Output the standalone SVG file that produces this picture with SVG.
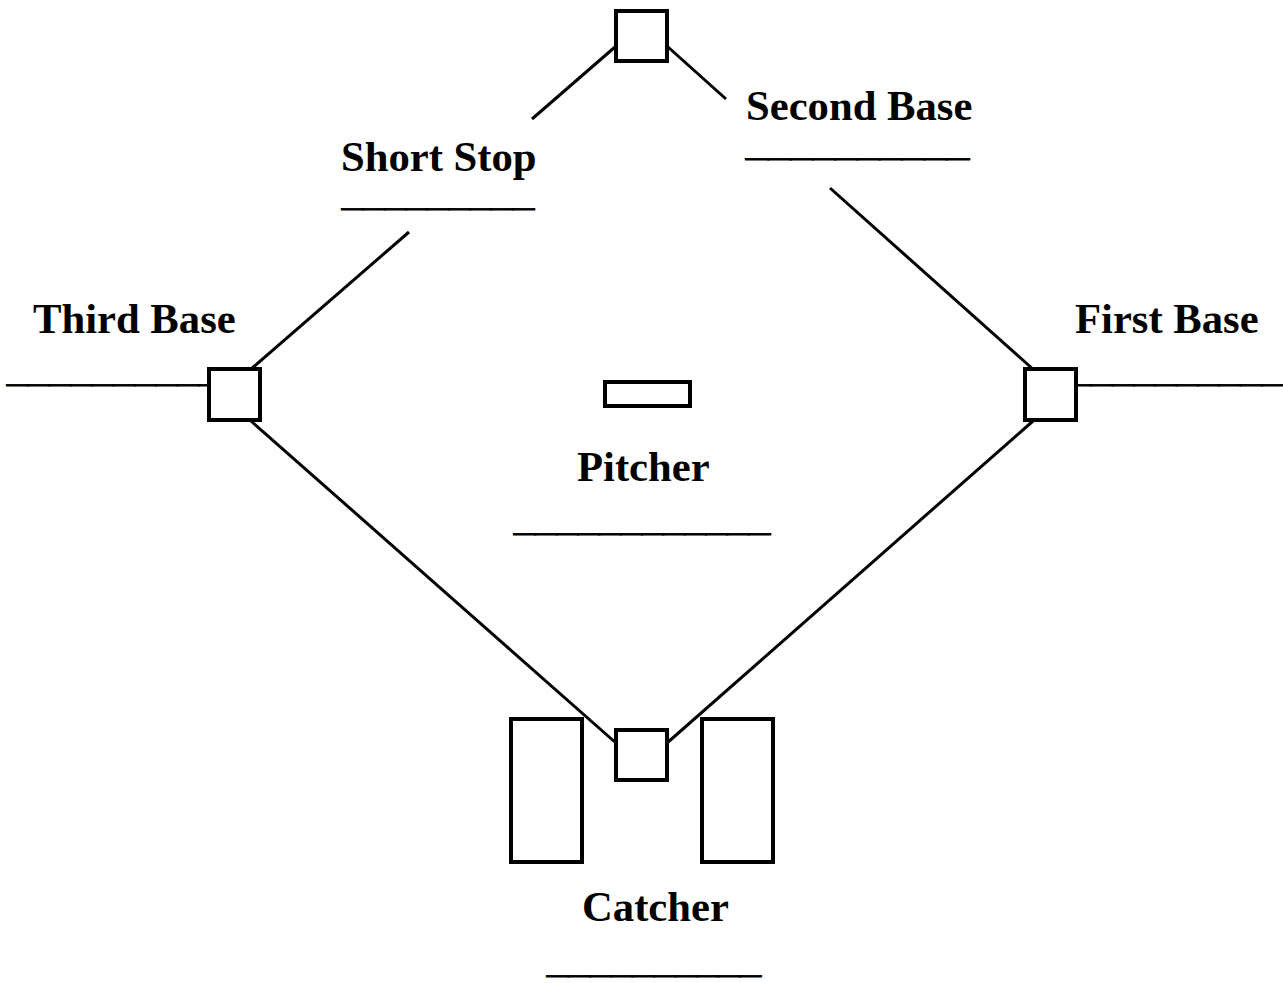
<svg xmlns="http://www.w3.org/2000/svg" width="1283" height="983" viewBox="0 0 1283 983">
<style>
.lbl{font-family:"Liberation Serif","Times New Roman",serif;font-weight:bold;font-size:42.67px;fill:#000}
.blank{font-family:"Liberation Serif","Times New Roman",serif;font-weight:bold;font-size:24px;fill:#000;stroke:#000;stroke-width:0.9}
.base{fill:#fff;stroke:#000;stroke-width:4}
.path{stroke:#000;stroke-width:3;fill:none}
</style>
<rect width="1283" height="983" fill="#fff"/>
<g id="connectors">
<line class="path" x1="615" y1="47" x2="532" y2="119"/>
<line class="path" x1="668" y1="47" x2="726" y2="99"/>
<line class="path" x1="409" y1="232" x2="250" y2="370"/>
<line class="path" x1="830" y1="188" x2="1034" y2="370"/>
<line class="path" x1="251" y1="421" x2="616" y2="743"/>
<line class="path" x1="1033" y1="421" x2="667" y2="743"/>
</g>
<g id="short-stop">
<text class="lbl" x="341" y="171">Short Stop</text>
<text class="blank" x="342" y="207" textLength="192" lengthAdjust="spacingAndGlyphs">_________</text>
</g>
<g id="second-base">
<rect class="base" x="616" y="11" width="51" height="50"/>
<text class="lbl" x="746" y="120">Second Base</text>
<text class="blank" x="746" y="157" textLength="223" lengthAdjust="spacingAndGlyphs">__________</text>
</g>
<g id="third-base">
<text class="lbl" x="33" y="333">Third Base</text>
<text class="blank" x="7" y="383" textLength="213" lengthAdjust="spacingAndGlyphs">__________</text>
<rect class="base" x="209" y="369" width="51" height="51"/>
</g>
<g id="first-base">
<text class="lbl" x="1075" y="333">First Base</text>
<text class="blank" x="1070" y="383" textLength="213" lengthAdjust="spacingAndGlyphs">__________</text>
<rect class="base" x="1025" y="369" width="51" height="51"/>
</g>
<g id="pitcher">
<rect class="base" x="605" y="382" width="85" height="24"/>
<text class="lbl" x="577" y="481">Pitcher</text>
<text class="blank" x="514" y="532" textLength="256" lengthAdjust="spacingAndGlyphs">____________</text>
</g>
<g id="catcher">
<rect class="base" x="511" y="719" width="71" height="143"/>
<rect class="base" x="702" y="719" width="71" height="143"/>
<rect class="base" x="616" y="730" width="51" height="50"/>
<text class="lbl" x="582" y="921">Catcher</text>
<text class="blank" x="547" y="974" textLength="214" lengthAdjust="spacingAndGlyphs">__________</text>
</g>
</svg>
